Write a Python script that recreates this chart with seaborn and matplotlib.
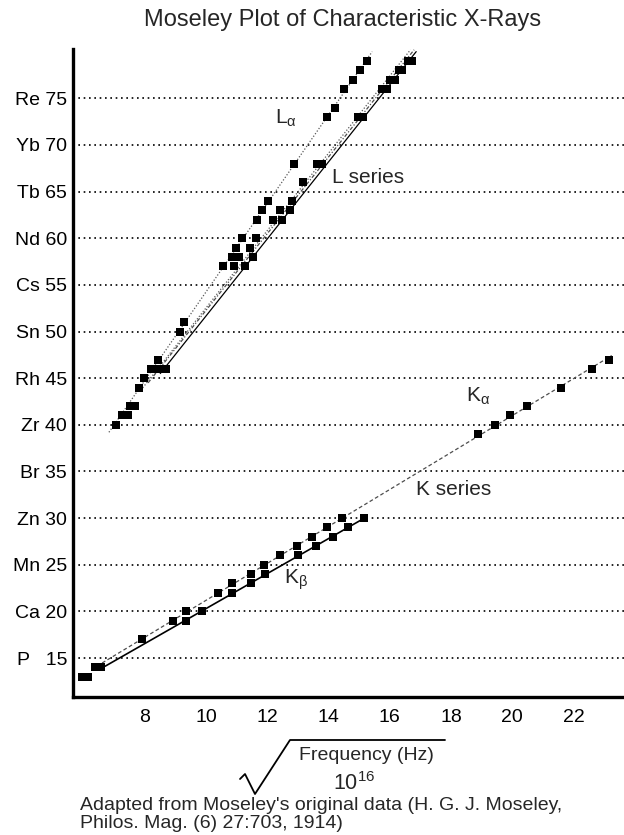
import numpy as np
import pandas as pd
import matplotlib
matplotlib.use("Agg")
import matplotlib.pyplot as plt
from matplotlib.lines import Line2D
import seaborn as sns

# ---------------- data ----------------
TITLE = "Moseley Plot of Characteristic X-Rays"
FOOTNOTE_1 = "Adapted from Moseley's original data (H. G. J. Moseley,"
FOOTNOTE_2 = "Philos. Mag. (6) 27:703, 1914)"

Y_TICKS = [15, 20, 25, 30, 35, 40, 45, 50, 55, 60, 65, 70, 75]
Y_TICK_LABELS = ["P   15", "Ca 20", "Mn 25", "Zn 30", "Br 35", "Zr 40", "Rh 45",
                 "Sn 50", "Cs 55", "Nd 60", "Tb 65", "Yb 70", "Re 75"]
X_TICKS = [8, 10, 12, 14, 16, 18, 20, 22]

# K series
K_ALPHA_Z = [13, 14, 17, 19, 20, 22, 23, 24, 25, 26, 27, 28, 29, 30, 39, 40, 41, 42, 44, 46, 47]
K_ALPHA_X = [5.93, 6.37, 7.89, 8.93, 9.34, 10.40, 10.83, 11.46, 11.90, 12.41, 12.96, 13.45,
             13.95, 14.45, 18.87, 19.42, 19.93, 20.47, 21.59, 22.60, 23.15]
K_BETA_Z = [13, 14, 19, 20, 22, 23, 24, 26, 27, 28, 29, 30]
K_BETA_X = [6.15, 6.58, 9.34, 9.85, 10.83, 11.46, 11.92, 13.00, 13.60, 14.15, 14.62, 15.17]

# L series
L_ALPHA_Z = [40, 41, 42, 44, 45, 46, 47, 50, 51, 57, 58, 59, 60, 62, 63, 64, 68, 73, 74, 76, 77, 78, 79]
L_ALPHA_X = [7.04, 7.26, 7.52, 7.79, 7.97, 8.20, 8.42, 9.13, 9.29, 10.56, 10.85, 10.97, 11.18,
             11.65, 11.82, 12.02, 12.87, 13.96, 14.20, 14.51, 14.79, 15.03, 15.27]
L_BETA_Z = [41, 42, 46, 57, 58, 59, 60, 62, 63, 64, 66, 68, 73, 76, 77, 78, 79]
L_BETA_X = [7.45, 7.68, 8.45, 10.92, 11.08, 11.43, 11.63, 12.19, 12.41, 12.79, 13.17, 13.61,
            14.97, 15.74, 16.00, 16.30, 16.58]
L_GAMMA_Z = [46, 57, 58, 62, 63, 68, 73, 76, 77, 78, 79]
L_GAMMA_X = [8.70, 11.28, 11.54, 12.47, 12.74, 13.77, 15.13, 15.90, 16.17, 16.40, 16.72]

# ---------------- style ----------------
sns.set_theme(style="white")
plt.rcParams["font.family"] = ["Liberation Sans", "DejaVu Sans"]
plt.rcParams["mathtext.fontset"] = "custom"
plt.rcParams["mathtext.rm"] = "Liberation Sans"
plt.rcParams["mathtext.it"] = "Liberation Sans"
plt.rcParams["mathtext.bf"] = "Liberation Sans:bold"

W, H = 624, 835
fig = plt.figure(figsize=(W / 100, H / 100), dpi=100)
ax = fig.add_axes([72.7 / W, 1 - 696.7 / H, 1 - 72.7 / W, (696.7 - 49.3) / H])
ax.set_xlim(5.64, 23.65)
ax.set_ylim(10.86, 80.25)

# gridlines
ax.grid(axis="y", color="black", linestyle=(0, (1, 2.2)), linewidth=1.2)
ax.grid(axis="x", visible=False)
ax.set_axisbelow(True)

# fitted lines
def line_z_on_x(xs, zs, lo, hi):
    c = np.polyfit(xs, zs, 1)
    xg = np.linspace(lo, hi, 50)
    return pd.DataFrame({"x": xg, "z": np.polyval(c, xg)})

def line_x_on_z(xs, zs, lo, hi):
    c = np.polyfit(zs, xs, 1)
    zg = np.linspace(lo, hi, 50)
    return pd.DataFrame({"x": np.polyval(c, zg), "z": zg})

lk = dict(ax=ax, sort=False, legend=False, zorder=2)
d = line_z_on_x(K_ALPHA_X, K_ALPHA_Z, 6.6, 23.25)
sns.lineplot(data=d, x="x", y="z", color="0.3", linewidth=0.9, linestyle=(0, (3, 2)), **lk)
d = line_z_on_x(K_BETA_X, K_BETA_Z, 6.7, 15.25)
sns.lineplot(data=d, x="x", y="z", color="black", linewidth=1.2, **lk)

d = line_x_on_z(L_ALPHA_X, L_ALPHA_Z, 39.2, 80.0)
sns.lineplot(data=d, x="x", y="z", color="0.35", linewidth=0.9, linestyle=(0, (1, 1.5)), **lk)
d = line_x_on_z(L_BETA_X, L_BETA_Z, 43.7, 80.2)
sns.lineplot(data=d, x="x", y="z", color="0.35", linewidth=0.9, linestyle=(0, (1, 1.5)), **lk)
d = line_x_on_z(L_BETA_X + L_GAMMA_X, L_BETA_Z + L_GAMMA_Z, 44.5, 80.2)
sns.lineplot(data=d, x="x", y="z", color="0.3", linewidth=0.9, linestyle=(0, (3, 1.5, 1, 1.5)), **lk)
d = line_x_on_z(L_GAMMA_X, L_GAMMA_Z, 45.5, 80.0)
sns.lineplot(data=d, x="x", y="z", color="black", linewidth=0.9, **lk)

# markers
pts = pd.DataFrame({
    "x": K_ALPHA_X + K_BETA_X + L_ALPHA_X + L_BETA_X + L_GAMMA_X,
    "z": K_ALPHA_Z + K_BETA_Z + L_ALPHA_Z + L_BETA_Z + L_GAMMA_Z,
})
sns.scatterplot(data=pts, x="x", y="z", marker="s", s=40, color="black",
                edgecolor="black", linewidth=0, ax=ax, zorder=3, legend=False)

# axes styling
for s in ["top", "right"]:
    ax.spines[s].set_visible(False)
for s in ["left", "bottom"]:
    ax.spines[s].set_color("black")
    ax.spines[s].set_linewidth(2.4)
ax.set_xticks(X_TICKS)
ax.set_xticklabels([str(t) for t in X_TICKS])
ax.set_yticks(Y_TICKS)
ax.set_yticklabels(Y_TICK_LABELS)
ax.tick_params(axis="both", direction="in", length=4, width=1.2, colors="black", labelsize=14)
ax.tick_params(axis="x", pad=9)
ax.tick_params(axis="y", pad=4)
ax.set_xlabel("")
ax.set_ylabel("")

# annotations
ax.text(12.25, 72.8, r"$\mathregular{L_{\alpha}}$", fontsize=15, ha="left", va="center")
ax.text(14.12, 66.5, "L series", fontsize=15, ha="left", va="center")
ax.text(18.49, 43.0, r"$\mathregular{K_{\alpha}}$", fontsize=15, ha="left", va="center")
ax.text(16.85, 33.1, "K series", fontsize=15, ha="left", va="center")
ax.text(12.54, 23.4, r"$\mathregular{K_{\beta}}$", fontsize=15, ha="left", va="center")

# title
fig.text(343 / W, 1 - 20 / H, TITLE, fontsize=17, ha="center", va="center")

# x label: radical with Frequency (Hz) over 10^16
fig.add_artist(Line2D(np.array([240, 245, 255, 290, 445]) / W,
                      1 - np.array([779, 774, 794, 740, 740]) / H,
                      transform=fig.transFigure, color="black", linewidth=1.3))
fig.text(366 / W, 1 - 755 / H, "Frequency (Hz)", fontsize=14, ha="center", va="center")
fig.text(354 / W, 1 - 784 / H, r"$\mathregular{10^{16}}$", fontsize=15.5, ha="center", va="center")

# footnote
fig.text(80 / W, 1 - 806 / H, FOOTNOTE_1, fontsize=14, ha="left", va="center")
fig.text(80 / W, 1 - 823 / H, FOOTNOTE_2, fontsize=14, ha="left", va="center")

fig.savefig("out.png", dpi=100)
